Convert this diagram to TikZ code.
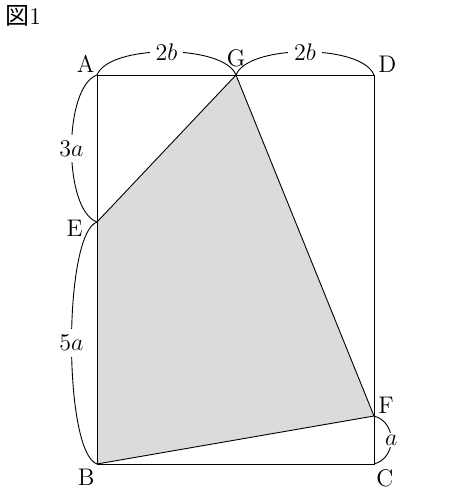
\documentclass[tikz,border=0pt]{standalone}
\usepackage{fontspec}
\newfontfamily\cjk{Noto Sans CJK JP}
\usetikzlibrary{positioning}

\begin{document}
\begin{tikzpicture}[x=0.5pt, y=-0.5pt, line width=0.45pt,
    pt/.style={inner sep=1pt, font=\fontsize{12}{14}\selectfont},
    len/.style={fill=white, inner sep=3pt, font=\fontsize{12}{14}\selectfont},
    arc/.style={line width=0.45pt}]
    \useasboundingbox (0,0) rectangle (462,489);
    % Points
    \coordinate (A) at (97,75);
    \coordinate (G) at (236,75);
    \coordinate (D) at (374,75);
    \coordinate (E) at (97,222);
    \coordinate (B) at (97,464);
    \coordinate (C) at (374,464);
    \coordinate (F) at (374,416);

    % Shaded part
    \fill [gray!28] (E) -- (G) -- (F) -- (B) -- cycle;
    \draw (A) -- (D) -- (C) -- (B) -- cycle;
    \draw (E) -- (G) -- (F) -- (B);

    % Arcs
    \draw [arc] (A) .. controls +(12,-31) and +(-12,-31) .. (G) node [len, pos=0.5] {$2b$};
    \draw [arc] (G) .. controls +(12,-31) and +(-12,-31) .. (D) node [len, pos=0.5] {$2b$};
    \draw [arc] (A) .. controls +(-34,12) and +(-34,-12) .. (E) node [len, pos=0.5] {$3a$};
    \draw [arc] (E) .. controls +(-34,12) and +(-34,-12) .. (B) node [len, pos=0.5] {$5a$};
    \draw [arc] (F) .. controls +(23,6) and +(23,-6) .. (C) node [len, inner sep=1pt, pos=0.5] {$a$};

    % Labels
    \node (lA) [pt, above left=0pt and 0pt of A] {A};
    \node (lG) [pt, above=3pt of G] {G};
    \node (lD) [pt, above right=0pt and 1pt of D] {D};
    \node (lE) [pt, left=6pt of E, yshift=-3pt] {E};
    \node (lB) [pt, below left=1.5pt and 0pt of B] {B};
    \node (lC) [pt, below right=1.5pt and 0pt of C] {C};
    \node (lF) [pt, above right=0pt and 1pt of F] {F};
    \node (title) [pt, anchor=west] at (3,16) {{\cjk\fontsize{12}{14}\selectfont 図}1};
\end{tikzpicture}
\end{document}
